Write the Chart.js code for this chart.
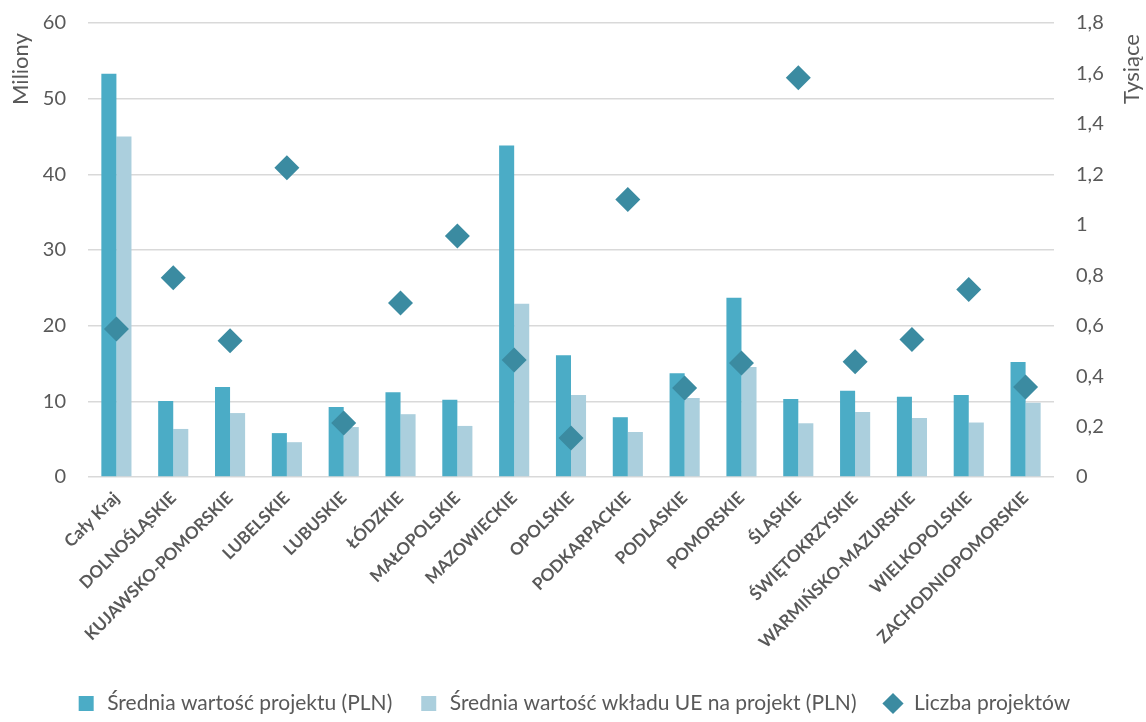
<!DOCTYPE html>
<html>
<head>
<meta charset="utf-8">
<script src="https://cdn.jsdelivr.net/npm/chart.js@4.4.1/dist/chart.umd.min.js"></script>
<style>
  body { margin: 0; background: #fff; }
  #wrap { width: 1146px; height: 722px; }
</style>
</head>
<body>
<div id="wrap"><canvas id="chart" width="1146" height="722"></canvas></div>
<script>
// regions
const regions = ['Cały Kraj', 'DOLNOŚLĄSKIE', 'KUJAWSKO-POMORSKIE', 'LUBELSKIE', 'LUBUSKIE', 'ŁÓDZKIE',
  'MAŁOPOLSKIE', 'MAZOWIECKIE', 'OPOLSKIE', 'PODKARPACKIE', 'PODLASKIE', 'POMORSKIE', 'ŚLĄSKIE',
  'ŚWIĘTOKRZYSKIE', 'WARMIŃSKO-MAZURSKIE', 'WIELKOPOLSKIE', 'ZACHODNIOPOMORSKIE'];

// mln PLN
const avgProjectValue = [53.3, 10.05, 11.9, 5.8, 9.25, 11.2, 10.2, 43.8, 16.1, 7.9, 13.7, 23.7, 10.3, 11.4, 10.6, 10.85, 15.2];
const avgEuContribution = [45.0, 6.35, 8.45, 4.6, 6.6, 8.3, 6.75, 22.9, 10.85, 5.95, 10.45, 14.55, 7.1, 8.6, 7.8, 7.2, 9.8];
// thousands
const projectCount = [0.587, 0.79, 0.54, 1.226, 0.214, 0.69, 0.956, 0.464, 0.155, 1.10, 0.353, 0.452, 1.583, 0.457, 0.545, 0.743, 0.357];

const leftMax = 60, leftStep = 10;
const rightMax = 1.8, rightStep = 0.2;

const grey = '#595959';
const fontName = 'Lato, "Open Sans", sans-serif';

// axis titles drawn bottom-to-top near the top of each axis
const axisTitles = {
  id: 'axisTitles',
  afterDraw(chart) {
    const ctx = chart.ctx;
    ctx.save();
    ctx.fillStyle = grey;
    ctx.font = '22px ' + fontName;
    ctx.textAlign = 'center';
    ctx.textBaseline = 'middle';
    [['Miliony', 21, 69], ['Tysiące', 1132, 69]].forEach(([txt, x, y]) => {
      ctx.save();
      ctx.translate(x, y);
      ctx.rotate(-Math.PI / 2);
      ctx.fillText(txt, 0, 0);
      ctx.restore();
    });
    ctx.restore();
  }
};

new Chart(document.getElementById('chart'), {
  data: {
    labels: regions,
    datasets: [
      {
        type: 'bar',
        label: 'Średnia wartość projektu (PLN)',
        data: avgProjectValue,
        yAxisID: 'y',
        backgroundColor: '#4bacc6',
        pointStyle: 'rect',
        categoryPercentage: 0.53,
        barPercentage: 1,
        order: 1
      },
      {
        type: 'bar',
        label: 'Średnia wartość wkładu UE na projekt (PLN)',
        data: avgEuContribution,
        yAxisID: 'y',
        backgroundColor: '#abcfdd',
        pointStyle: 'rect',
        categoryPercentage: 0.53,
        barPercentage: 1,
        order: 1
      },
      {
        type: 'line',
        label: 'Liczba projektów',
        data: projectCount,
        yAxisID: 'y1',
        showLine: false,
        pointStyle: 'rectRot',
        pointRadius: 12.5,
        pointHoverRadius: 12.5,
        backgroundColor: '#3b8ba1',
        borderColor: '#3b8ba1',
        borderWidth: 0,
        order: 0
      }
    ]
  },
  options: {
    responsive: false,
    animation: false,
    layout: { padding: { top: 23, left: 0, right: 0, bottom: 0 } },
    plugins: {
      tooltip: { enabled: false },
      legend: {
        position: 'bottom',
        maxHeight: 55,
        labels: {
          usePointStyle: true,
          boxHeight: 15,
          padding: 26,
          color: grey,
          font: { family: fontName, size: 21 },
          sort: (a, b) => a.datasetIndex - b.datasetIndex
        }
      }
    },
    scales: {
      x: {
        grid: { display: false },
        border: { display: false },
        ticks: {
          color: grey,
          minRotation: 45,
          maxRotation: 45,
          autoSkip: false,
          font: { family: fontName, size: 17, weight: 'bold' }
        },
        afterFit(scale) { scale.height = 190; }
      },
      y: {
        position: 'left',
        min: 0,
        max: leftMax,
        ticks: {
          stepSize: leftStep,
          color: grey,
          padding: 22,
          font: { family: fontName, size: 20 }
        },
        grid: { color: '#d9d9d9', lineWidth: 1.5, drawTicks: false },
        border: { display: false },
        afterFit(scale) { scale.width = 88; scale.paddingTop = 0; scale.paddingBottom = 0; }
      },
      y1: {
        position: 'right',
        min: 0,
        max: rightMax,
        ticks: {
          stepSize: rightStep,
          color: grey,
          padding: 22,
          font: { family: fontName, size: 20 },
          callback: v => String(Number(v.toFixed(1))).replace('.', ',')
        },
        grid: { display: false, drawTicks: false },
        border: { display: false },
        afterFit(scale) { scale.width = 92; scale.paddingTop = 0; scale.paddingBottom = 0; }
      }
    }
  },
  plugins: [axisTitles]
});
</script>
</body>
</html>
